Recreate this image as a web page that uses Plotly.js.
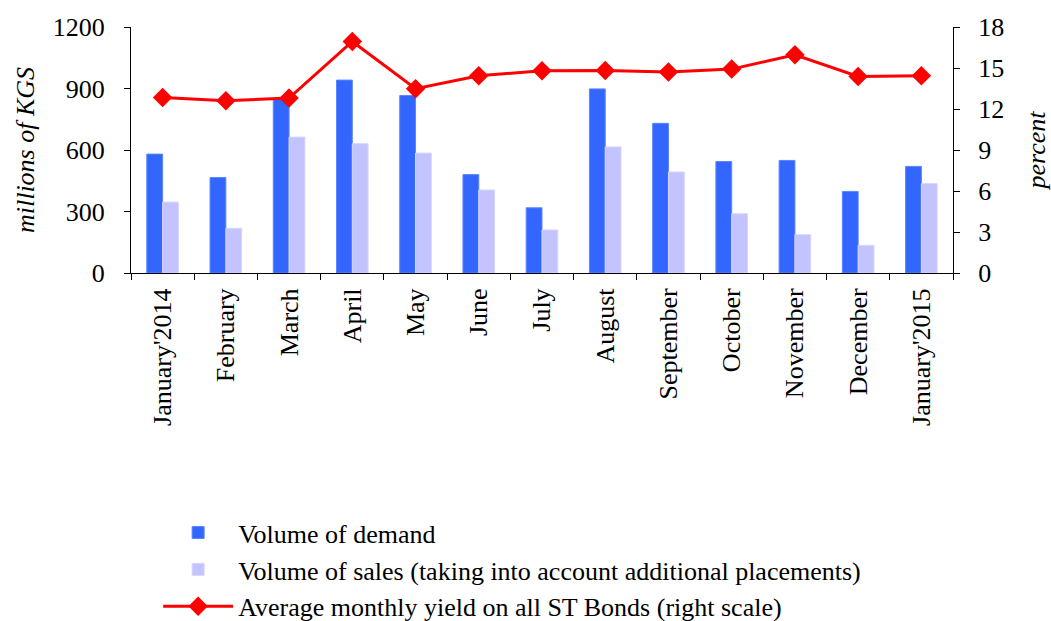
<!DOCTYPE html>
<html>
<head>
<meta charset="utf-8">
<script src="https://cdn.plot.ly/plotly-3.0.1.min.js"></script>
<style>html,body{margin:0;padding:0;background:#fff;}#chart{width:1051px;height:621px;}</style>
</head>
<body>
<div id="chart"></div>
<script>
const categories = ["January'2014","February","March","April","May","June","July","August","September","October","November","December","January'2015"];
const demand = [580, 466, 852, 941, 866, 480, 318, 898, 730, 544, 549, 398, 520];
const sales = [346, 218, 663, 631, 585, 405, 210, 615, 493, 289, 187, 135, 436];
const yieldPct = [12.85, 12.6, 12.8, 16.94, 13.48, 14.43, 14.8, 14.82, 14.7, 14.92, 15.97, 14.38, 14.43];
const leftTicks = [0, 300, 600, 900, 1200];
const rightTicks = [0, 3, 6, 9, 12, 15, 18];

const FONT = "Liberation Serif, Times New Roman, serif";

const traces = [
  {type:'bar', name:'Volume of demand', x:categories, y:demand,
   marker:{color:'#3366FF', line:{color:'#5c85ff', width:1}}},
  {type:'bar', name:'Volume of sales (taking into account additional placements)', x:categories, y:sales,
   marker:{color:'#C3C3FF', line:{color:'#d6d6ff', width:1}}},
  {type:'scatter', mode:'lines+markers', name:'Average monthly yield on all ST Bonds (right scale)',
   x:categories, y:yieldPct, yaxis:'y2',
   line:{color:'#FF0000', width:3}, marker:{symbol:'diamond', size:15, color:'#FF0000'}}
];

const layout = {
  width:1051, height:621,
  margin:{l:131, r:98, t:27, b:348, autoexpand:false},
  paper_bgcolor:'#fff', plot_bgcolor:'#fff',
  font:{family:FONT, size:26, color:'#000'},
  barmode:'group', bargap:0.5, bargroupgap:0,
  showlegend:true,
  legend:{orientation:'v', x:0.033, xanchor:'left', y:-0.96, yanchor:'top',
          font:{family:FONT, size:26, color:'#000'}, itemwidth:70, tracegroupgap:0,
          bgcolor:'rgba(0,0,0,0)'},
  xaxis:{type:'category', range:[-0.5, 12.5], tickangle:-90, showline:true, linecolor:'#000', linewidth:1,
         ticks:'outside', ticklen:6, tickcolor:'#000', tickson:'boundaries', ticklabelstandoff:4,
         showgrid:false, zeroline:false, tickfont:{family:FONT, size:26}},
  yaxis:{range:[0,1200], tickvals:leftTicks, ticktext:leftTicks.map(String),
         showline:true, linecolor:'#000', linewidth:1, ticks:'outside', ticklen:6, tickcolor:'#000',
         ticklabelstandoff:14,
         showgrid:false, zeroline:false, tickfont:{family:FONT, size:26},
         title:{text:'<i>millions of KGS</i>', font:{family:FONT, size:26}, standoff:10}},
  yaxis2:{range:[0,18], tickvals:rightTicks, ticktext:rightTicks.map(String), overlaying:'y', side:'right',
          showline:true, linecolor:'#000', linewidth:1, ticks:'outside', ticklen:6, tickcolor:'#000',
          ticklabelstandoff:13,
          showgrid:false, zeroline:false, tickfont:{family:FONT, size:26},
          title:{text:'<i>percent</i>', font:{family:FONT, size:26}, standoff:30}}
};

Plotly.newPlot('chart', traces, layout, {displayModeBar:false, staticPlot:true});
</script>
</body>
</html>
